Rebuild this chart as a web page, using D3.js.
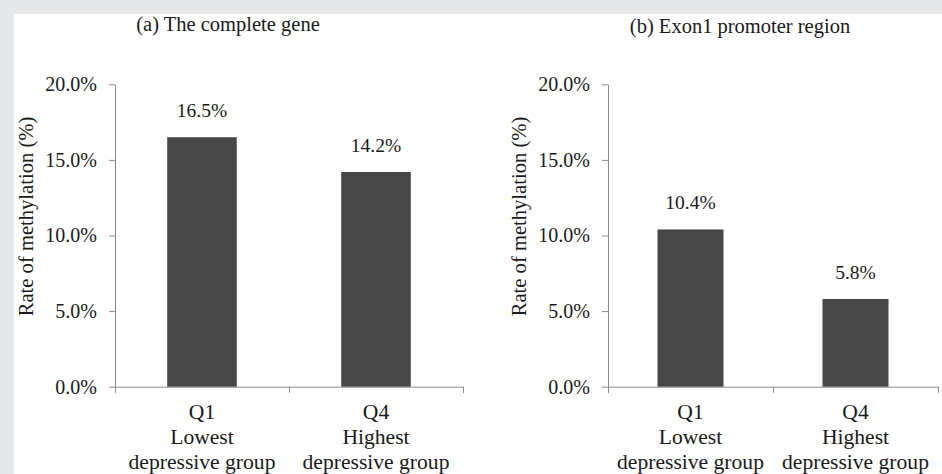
<!DOCTYPE html>
<html>
<head>
<meta charset="utf-8">
<title>Rate of methylation</title>
<script src="https://cdn.jsdelivr.net/npm/d3@7/dist/d3.min.js"></script>
<style>
  html, body { margin: 0; padding: 0; background: #e6e7e9; }
  svg { display: block; }
</style>
</head>
<body>
<script>
// data
var categories = ["Q1", "Q4"];
var groupNames = ["Lowest", "Highest"];
var groupSuffix = "depressive group";
var panelTitles = ["(a) The complete gene", "(b) Exon1 promoter region"];
var completeGene = [16.5, 14.2];
var exon1Promoter = [10.4, 5.8];
var yTicks = [0, 5, 10, 15, 20];
var yLabel = "Rate of methylation (%)";

var width = 942, height = 474;
var serif = "'Liberation Serif', 'Times New Roman', serif";
var ink = "#1a1a1a";

var svg = d3.select("body").append("svg")
    .attr("width", width)
    .attr("height", height);

// grey frame on top and left, white page behind the charts
svg.append("rect").attr("width", width).attr("height", height).attr("fill", "#e6e7e9");
svg.append("rect").attr("x", 14).attr("y", 14)
    .attr("width", width - 14).attr("height", height - 14).attr("fill", "#ffffff");

var y = d3.scaleLinear().domain([0, 20]).range([386.7, 84.3]);

// one entry per panel: where its plot sits and which series it shows
var panels = [
  {title: panelTitles[0], values: completeGene, x0: 115, x1: 463, titleX: 228, titleY: 31, yTitleX: 33},
  {title: panelTitles[1], values: exon1Promoter, x0: 608, x1: 938, titleX: 740, titleY: 33, yTitleX: 526}
];

function label(sel, size) {
  return sel.style("font-family", serif).style("font-size", size + "px").style("fill", ink);
}

panels.forEach(function (p) {
  var g = svg.append("g");

  var x = d3.scaleBand().domain(categories)
      .range([p.x0, p.x1])
      .paddingInner(0.6)
      .paddingOuter(0.3);

  // boundaries between categories, for the x tick marks
  var edges = d3.scaleLinear().domain([0, categories.length]).range([p.x0, p.x1]);

  label(g.append("text"), 20.5)
      .attr("x", p.titleX)
      .attr("y", p.titleY)
      .attr("text-anchor", "middle")
      .text(p.title);

  var yAxis = g.append("g")
      .attr("transform", "translate(" + p.x0 + ",0)")
      .call(d3.axisLeft(y)
          .tickValues(yTicks)
          .tickFormat(function (d) { return d.toFixed(1) + "%"; })
          .tickSize(6)
          .tickSizeOuter(0)
          .tickPadding(12));
  label(yAxis.selectAll("text"), 20);
  yAxis.selectAll("path, line").attr("stroke", "#8a8a8a");

  var xAxis = g.append("g")
      .attr("transform", "translate(0," + y(0) + ")")
      .call(d3.axisBottom(edges)
          .tickValues(d3.range(categories.length + 1))
          .tickFormat("")
          .tickSize(6)
          .tickSizeOuter(6));
  xAxis.selectAll("path, line").attr("stroke", "#8a8a8a");

  g.selectAll("rect.bar")
      .data(p.values)
      .enter()
      .append("rect")
      .attr("class", "bar")
      .attr("x", function (d, i) { return x(categories[i]); })
      .attr("y", function (d) { return y(d); })
      .attr("width", x.bandwidth())
      .attr("height", function (d) { return y(0) - y(d); })
      .attr("fill", "#474747");

  label(g.selectAll("text.value")
      .data(p.values)
      .enter()
      .append("text"), 19.5)
      .attr("class", "value")
      .attr("x", function (d, i) { return x(categories[i]) + x.bandwidth() / 2; })
      .attr("y", function (d) { return y(d) - 20; })
      .attr("text-anchor", "middle")
      .text(function (d) { return d.toFixed(1) + "%"; });

  // three line category labels
  var cats = label(g.selectAll("text.cat")
      .data(categories)
      .enter()
      .append("text"), 21.6)
      .attr("class", "cat")
      .attr("text-anchor", "middle");
  cats.each(function (c, i) {
    var t = d3.select(this);
    var cx = x(c) + x.bandwidth() / 2;
    [c, groupNames[i], groupSuffix].forEach(function (line, k) {
      t.append("tspan")
          .attr("x", cx)
          .attr("y", 419 + k * 25)
          .text(line);
    });
  });

  label(g.append("text"), 20.6)
      .attr("transform", "translate(" + p.yTitleX + "," + ((y(0) + y(20)) / 2 - 19) + ") rotate(-90)")
      .attr("text-anchor", "middle")
      .text(yLabel);
});
</script>
</body>
</html>
